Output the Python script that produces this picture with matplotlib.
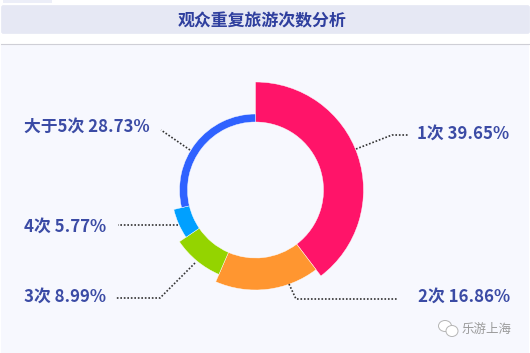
import matplotlib
matplotlib.use('Agg')
import matplotlib.pyplot as plt
from matplotlib.patches import Wedge, Rectangle, FancyBboxPatch, Ellipse

plt.rcParams['font.family'] = ['Noto Sans CJK SC', 'DejaVu Sans']

# 数据
categories = ['1次', '2次', '3次', '4次', '大于5次']
shares = [39.65, 16.86, 8.99, 5.77, 28.73]
outer_radius = [108, 100, 92, 84, 76]
colors = ['#ff1469', '#ff9630', '#94d400', '#00a0ff', '#2f62ff']
title = '观众重复旅游次数分析'

# 标签位置 (像素)
label_pos = [(417, 134), (418, 297), (24, 297), (24, 227), (24, 127)]
leaders = [
    [(356, 149), (392, 135), (409, 135)],
    [(289, 284), (296, 299), (397, 299)],
    [(195, 263), (160, 298), (115, 298)],
    [(178, 225), (118, 225)],
    [(190, 150), (161, 130)],
]
text_color = '#3b4ba5'

fig = plt.figure(figsize=(5.3, 3.53), dpi=100)
ax = fig.add_axes([0, 0, 1, 1])
ax.set_xlim(0, 530)
ax.set_ylim(353, 0)
ax.axis('off')

# 背景
ax.add_patch(Rectangle((1, 44), 528, 309, color='#f7f8fe', lw=0))
ax.add_patch(FancyBboxPatch((1.5, 5.5), 528, 28, boxstyle='round,pad=0,rounding_size=2',
                            fc='#e6e8f4', ec='#e6e8f4', lw=0.5))
ax.add_patch(Rectangle((3, 0), 49, 2.5, color='#eceef8', lw=0))
ax.plot([1, 529], [43.5, 43.5], color='#cfcfd6', lw=0.8)
ax.text(262, 21, title, ha='center', va='center', fontsize=12.2, fontweight='bold', color='#2f3f9e')

# 环形图 (y轴向下, 角度从12点顺时针)
cx, cy = 255.5, 190
start = -90
for share, r, c in zip(shares, outer_radius, colors):
    sweep = share / 100 * 360
    ax.add_patch(Wedge((cx, cy), r, start, start + sweep, width=r - 68,
                       fc=c, ec='white', lw=0.3))
    start += sweep

# 引导线和标签
for pts, pos, cat, share in zip(leaders, label_pos, categories, shares):
    ax.plot([p[0] for p in pts], [p[1] for p in pts], color='#333333', lw=1.2,
            linestyle=(0, (1, 1.1)))
    ax.text(pos[0], pos[1], f'{cat} {share:.2f}%', ha='left', va='center',
            fontsize=12.1, fontweight='bold', color=text_color)

# 水印
ax.add_patch(Ellipse((445, 326), 13, 11, fc='white', ec='#b5b5b5', lw=0.7))
ax.add_patch(Ellipse((452, 331), 12, 11, fc='white', ec='#b5b5b5', lw=0.7))
ax.text(462, 329, '乐游上海', ha='left', va='center', fontsize=9, color='#9a9a9a', style='italic')

fig.savefig('out.png', dpi=100)
